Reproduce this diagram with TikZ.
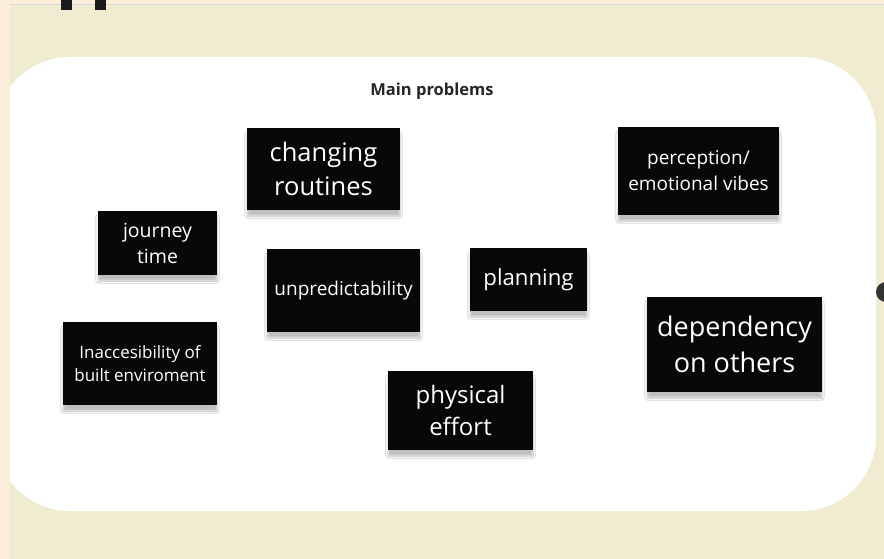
\documentclass[tikz,border=0pt]{standalone}
\usepackage{fontspec}
\setmainfont{Open Sans}
\usetikzlibrary{shadows.blur}
\definecolor{boardcream}{HTML}{F0ECD2}
\definecolor{edgepeach}{HTML}{FBEEDA}
\definecolor{rulegray}{HTML}{D9D9D9}
\definecolor{notebk}{HTML}{080808}
\tikzset{
    my-note/.style={
        fill=notebk, text=white, align=center, inner sep=0pt,
        blur shadow={shadow xshift=0pt, shadow yshift=-6pt, shadow opacity=25, shadow blur steps=8}
    },
    my-title/.style={
        font=\fontsize{16.5}{19}\selectfont\bfseries, text=black!85
    },
    my-mark/.style={
        fill=black!90, draw=none
    },
}

\begin{document}
\begin{tikzpicture}[x=1pt, y=-1pt]

        % BACKGROUND AND BOARD
        \useasboundingbox (0,0) rectangle (884,559);
        \fill[boardcream] (0,0) rectangle (884,559);
        \fill[white, rounded corners=75pt] (-5,57) rectangle (876,511);
        \fill[edgepeach] (0,0) rectangle (10,559);
        \fill[edgepeach] (0,0) rectangle (884,4);
        \draw[rulegray, line width=1pt] (10,4.5) -- (884,4.5);
        \fill[my-mark] (61,0) rectangle (72,10);
        \fill[my-mark] (95,0) rectangle (106,10);
        \fill[black!80] (886,292) circle (10);

        % TITLE
        \node[my-title] (TITLE) at (432,91) {Main problems};

        % NOTES
        \node[my-note, minimum width=153pt, minimum height=82pt, font=\fontsize{25.5}{34}\selectfont]
            (ROUTINES) at (323.5,169) {changing\\routines};
        \node[my-note, minimum width=161pt, minimum height=88pt, font=\fontsize{19}{26}\selectfont]
            (PERCEPTION) at (698.5,171) {perception/\\emotional vibes};
        \node[my-note, minimum width=119pt, minimum height=64pt, font=\fontsize{19.5}{26}\selectfont]
            (JOURNEY) at (157.5,243) {journey\\time};
        \node[my-note, minimum width=153pt, minimum height=83pt, font=\fontsize{19}{23}\selectfont]
            (UNPREDICT) at (343.5,290.5) {unpredictability};
        \node[my-note, minimum width=117pt, minimum height=63pt, font=\fontsize{22.2}{28}\selectfont]
            (PLANNING) at (528.5,279.5) {planning};
        \node[my-note, minimum width=154pt, minimum height=83pt, font=\fontsize{17}{23}\selectfont]
            (ACCESS) at (140,363.5) {Inaccesibility of\\built enviroment};
        \node[my-note, minimum width=175pt, minimum height=95pt, font=\fontsize{27}{36}\selectfont]
            (DEPEND) at (734.5,344.5) {dependency\\on others};
        \node[my-note, minimum width=145pt, minimum height=79pt, font=\fontsize{24}{32}\selectfont]
            (EFFORT) at (460.5,410.5) {physical\\effort};

    \end{tikzpicture}
\end{document}
